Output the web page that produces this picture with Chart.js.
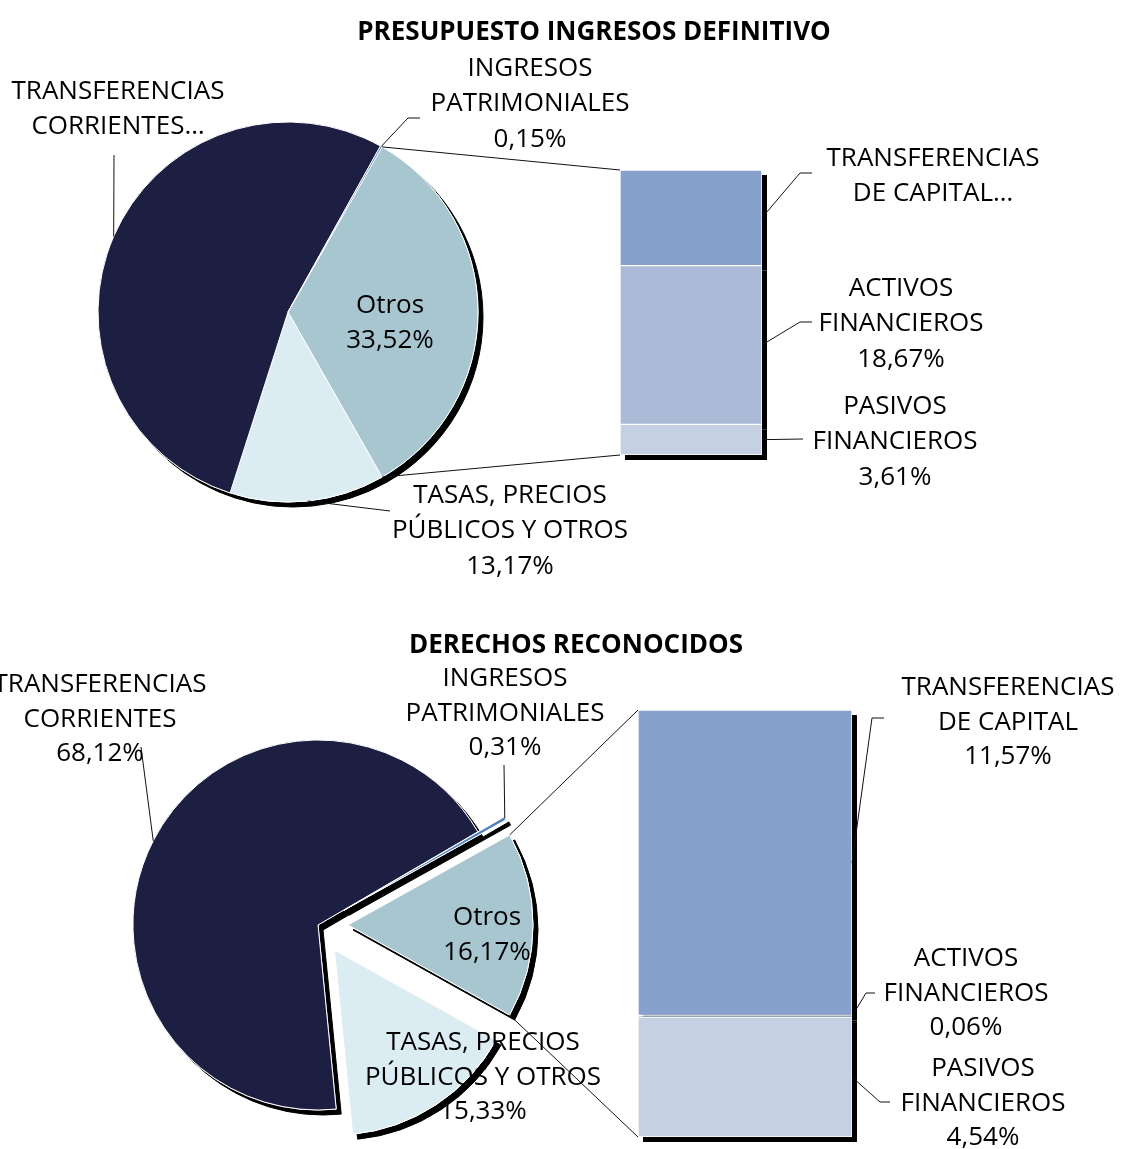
<!DOCTYPE html>
<html lang="es">
<head>
<meta charset="utf-8">
<title>Presupuesto de ingresos</title>
<script src="https://cdn.jsdelivr.net/npm/chart.js@4.4.1/dist/chart.umd.min.js"></script>
<style>
  html, body { margin: 0; padding: 0; background: #fff; }
  #page { position: relative; width: 1121px; height: 1149px; overflow: hidden; }
  #page canvas { position: absolute; left: 0; top: 0; }
</style>
</head>
<body>
<div id="page">
  <canvas id="budgetPie" width="1121" height="1149"></canvas>
  <canvas id="budgetBar" width="1121" height="1149"></canvas>
  <canvas id="rightsPie" width="1121" height="1149"></canvas>
  <canvas id="rightsBar" width="1121" height="1149"></canvas>
</div>
<script>
// pie slices: first one is the "Otros" slice that is broken down in the bar
const pieCategories = ["Otros", "TASAS, PRECIOS PÚBLICOS Y OTROS", "TRANSFERENCIAS CORRIENTES", "INGRESOS PATRIMONIALES"];
const pieNameLines = [["Otros"], ["TASAS, PRECIOS", "PÚBLICOS Y OTROS"], ["TRANSFERENCIAS", "CORRIENTES"], ["INGRESOS", "PATRIMONIALES"]];
const budgetPieValues = [33.52, 13.17, 53.16, 0.15];
const rightsPieValues = [16.17, 15.33, 68.12, 0.31];

// bar segments, bottom to top
const barCategories = ["PASIVOS FINANCIEROS", "ACTIVOS FINANCIEROS", "TRANSFERENCIAS DE CAPITAL"];
const barNameLines = [["PASIVOS", "FINANCIEROS"], ["ACTIVOS", "FINANCIEROS"], ["TRANSFERENCIAS", "DE CAPITAL"]];
const budgetBarValues = [3.61, 18.67, 11.24];
const rightsBarValues = [4.54, 0.06, 11.57];

const chartTitles = ["PRESUPUESTO INGRESOS DEFINITIVO", "DERECHOS RECONOCIDOS"];

const pieColors = ["#a8c6d0", "#dbedf3", "#1c1f42", "#4f81bd"];
const barColors = ["#c5d0e2", "#abbad7", "#86a1cb"];

const W = 1121;
const H = 1149;
const FONT = '26px "Open Sans", "Noto Sans", sans-serif';
const TITLE_FONT = 'bold 26px "Open Sans", "Noto Sans", sans-serif';
const SHADOW = 5;

const budgetLayout = {
  center: [288, 312],
  radius: 190,
  explode: [0, 0, 0, 0],
  bar: { left: 620, right: 762, top: 170, bottom: 455 },
  title: { x: 594, y: 40 },
  lineHeight: 35.3,
  pieLabels: [
    { x: 390, y: 313 },
    { x: 510, y: 503, leader: [[390, 511]] },
    { x: 118, y: 99, leader: [[114, 155]], clipped: true },
    { x: 530, y: 76, leader: [[408, 118], [420, 118]] }
  ],
  barLabels: [
    { x: 895, y: 414, leader: [[803, 439]] },
    { x: 901, y: 296, leader: [[800, 322], [812, 322]] },
    { x: 933, y: 166, leader: [[800, 173], [812, 173]], clipped: true }
  ]
};

const rightsLayout = {
  center: [318, 925],
  radius: 185,
  explode: [30, 30, 0, 30],
  bar: { left: 638, right: 852, top: 710, bottom: 1137 },
  title: { x: 576, y: 653 },
  lineHeight: 34.5,
  pieLabels: [
    { x: 487, y: 925 },
    { x: 483, y: 1050 },
    { x: 100, y: 692, leader: [[141, 747]] },
    { x: 505, y: 686, leader: [[504, 765]] }
  ],
  barLabels: [
    { x: 983, y: 1076, leader: [[880, 1102], [890, 1102]] },
    { x: 966, y: 966, leader: [[866, 993], [875, 993]] },
    { x: 1008, y: 695, leader: [[872, 718], [884, 718]] }
  ]
};

function formatPct(v) {
  return v.toFixed(2).replace(".", ",") + "%";
}

function labelLines(name, value, clipped) {
  if (clipped) {
    const lines = name.slice();
    lines[lines.length - 1] += "…";
    return lines;
  }
  return name.concat([formatPct(value)]);
}

function drawText(ctx, lines, x, y, lineHeight) {
  ctx.save();
  ctx.font = FONT;
  ctx.fillStyle = "#000";
  ctx.textAlign = "center";
  ctx.textBaseline = "alphabetic";
  lines.forEach((line, i) => ctx.fillText(line, x, y + i * lineHeight));
  ctx.restore();
}

function drawLeader(ctx, start, points) {
  ctx.save();
  ctx.strokeStyle = "#111";
  ctx.lineWidth = 1;
  ctx.beginPath();
  ctx.moveTo(start[0], start[1]);
  points.forEach(([x, y]) => ctx.lineTo(x, y));
  ctx.stroke();
  ctx.restore();
}

function arcPoint(arc, angle, explode) {
  const mid = (arc.startAngle + arc.endAngle) / 2;
  const ox = arc.x + Math.cos(mid) * explode;
  const oy = arc.y + Math.sin(mid) * explode;
  return [ox + Math.cos(angle) * arc.outerRadius, oy + Math.sin(angle) * arc.outerRadius];
}

function centerPadding(layout) {
  const [cx, cy] = layout.center;
  return {
    left: cx * 2 > W ? cx * 2 - W : 0,
    right: cx * 2 > W ? 0 : W - cx * 2,
    top: cy * 2 > H ? cy * 2 - H : 0,
    bottom: cy * 2 > H ? 0 : H - cy * 2
  };
}

function makePie(canvasId, values, layout, title) {
  const total = values.reduce((a, b) => a + b, 0);

  const pieDecor = {
    id: "pieDecor",
    beforeDatasetDraw(chart, args) {
      const ctx = chart.ctx;
      const arcs = args.meta.data;
      // first pass casts the offset shadow, second pass covers the inner part
      [true, false].forEach((withShadow) => {
        arcs.forEach((arc, i) => {
          const mid = (arc.startAngle + arc.endAngle) / 2;
          const d = layout.explode[i];
          ctx.save();
          ctx.translate(Math.cos(mid) * d, Math.sin(mid) * d);
          if (withShadow) {
            ctx.shadowColor = "#000";
            ctx.shadowBlur = 0;
            ctx.shadowOffsetX = SHADOW;
            ctx.shadowOffsetY = SHADOW;
          }
          arc.draw(ctx);
          ctx.restore();
        });
      });
      return false;
    },
    afterDraw(chart) {
      const ctx = chart.ctx;
      const arcs = chart.getDatasetMeta(0).data;
      arcs.forEach((arc, i) => {
        const spec = layout.pieLabels[i];
        if (spec.leader) {
          const mid = (arc.startAngle + arc.endAngle) / 2;
          drawLeader(ctx, arcPoint(arc, mid, layout.explode[i]), spec.leader);
        }
        drawText(ctx, labelLines(pieNameLines[i], values[i], spec.clipped), spec.x, spec.y, layout.lineHeight);
      });
      ctx.save();
      ctx.font = TITLE_FONT;
      ctx.fillStyle = "#000";
      ctx.textAlign = "center";
      ctx.fillText(title, layout.title.x, layout.title.y);
      ctx.restore();
    }
  };

  return new Chart(document.getElementById(canvasId), {
    type: "pie",
    data: {
      labels: pieCategories,
      datasets: [{
        data: values,
        backgroundColor: pieColors,
        borderColor: "#fff",
        borderWidth: 1
      }]
    },
    options: {
      responsive: false,
      animation: false,
      rotation: 90 - 180 * values[0] / total,
      radius: layout.radius,
      layout: { padding: centerPadding(layout) },
      events: [],
      plugins: {
        legend: { display: false },
        tooltip: { enabled: false }
      }
    },
    plugins: [pieDecor]
  });
}

function makeBar(canvasId, values, layout, pieChart) {
  const b = layout.bar;
  const sum = values.reduce((a, v) => a + v, 0);

  const barDecor = {
    id: "barDecor",
    beforeDatasetsDraw(chart) {
      // the bar element clips itself, so its shadow is painted as a plain offset rect
      const ctx = chart.ctx;
      ctx.save();
      ctx.fillStyle = "#000";
      chart.data.datasets.forEach((ds, i) => {
        chart.getDatasetMeta(i).data.forEach((bar) => {
          const top = Math.min(bar.y, bar.base);
          ctx.fillRect(bar.x - bar.width / 2 + SHADOW, top + SHADOW, bar.width, Math.abs(bar.base - bar.y));
        });
      });
      ctx.restore();
    },
    afterDraw(chart) {
      const ctx = chart.ctx;
      const metas = chart.data.datasets.map((ds, i) => chart.getDatasetMeta(i).data[0]);

      // links between the "Otros" slice and the bar
      const otros = pieChart.getDatasetMeta(0).data[0];
      const topBar = metas[metas.length - 1];
      const bottomBar = metas[0];
      drawLeader(ctx, arcPoint(otros, otros.startAngle, layout.explode[0]), [[topBar.x - topBar.width / 2, topBar.y]]);
      drawLeader(ctx, arcPoint(otros, otros.endAngle, layout.explode[0]), [[bottomBar.x - bottomBar.width / 2, bottomBar.base]]);

      metas.forEach((bar, i) => {
        const spec = layout.barLabels[i];
        drawLeader(ctx, [bar.x + bar.width / 2, (bar.y + bar.base) / 2], spec.leader);
        drawText(ctx, labelLines(barNameLines[i], values[i], spec.clipped), spec.x, spec.y, layout.lineHeight);
      });
    }
  };

  return new Chart(document.getElementById(canvasId), {
    type: "bar",
    data: {
      labels: ["Otros"],
      datasets: values.map((v, i) => ({
        label: barCategories[i],
        data: [v],
        backgroundColor: barColors[i],
        borderColor: "#fff",
        borderWidth: 1,
        borderSkipped: false,
        barPercentage: 1,
        categoryPercentage: 1
      }))
    },
    options: {
      responsive: false,
      animation: false,
      events: [],
      layout: { padding: { left: b.left, right: W - b.right, top: b.top, bottom: H - b.bottom } },
      scales: {
        x: { display: false, stacked: true },
        y: { display: false, stacked: true, min: 0, max: sum }
      },
      plugins: {
        legend: { display: false },
        tooltip: { enabled: false }
      }
    },
    plugins: [barDecor]
  });
}

const budgetPie = makePie("budgetPie", budgetPieValues, budgetLayout, chartTitles[0]);
makeBar("budgetBar", budgetBarValues, budgetLayout, budgetPie);
const rightsPie = makePie("rightsPie", rightsPieValues, rightsLayout, chartTitles[1]);
makeBar("rightsBar", rightsBarValues, rightsLayout, rightsPie);
</script>
</body>
</html>
